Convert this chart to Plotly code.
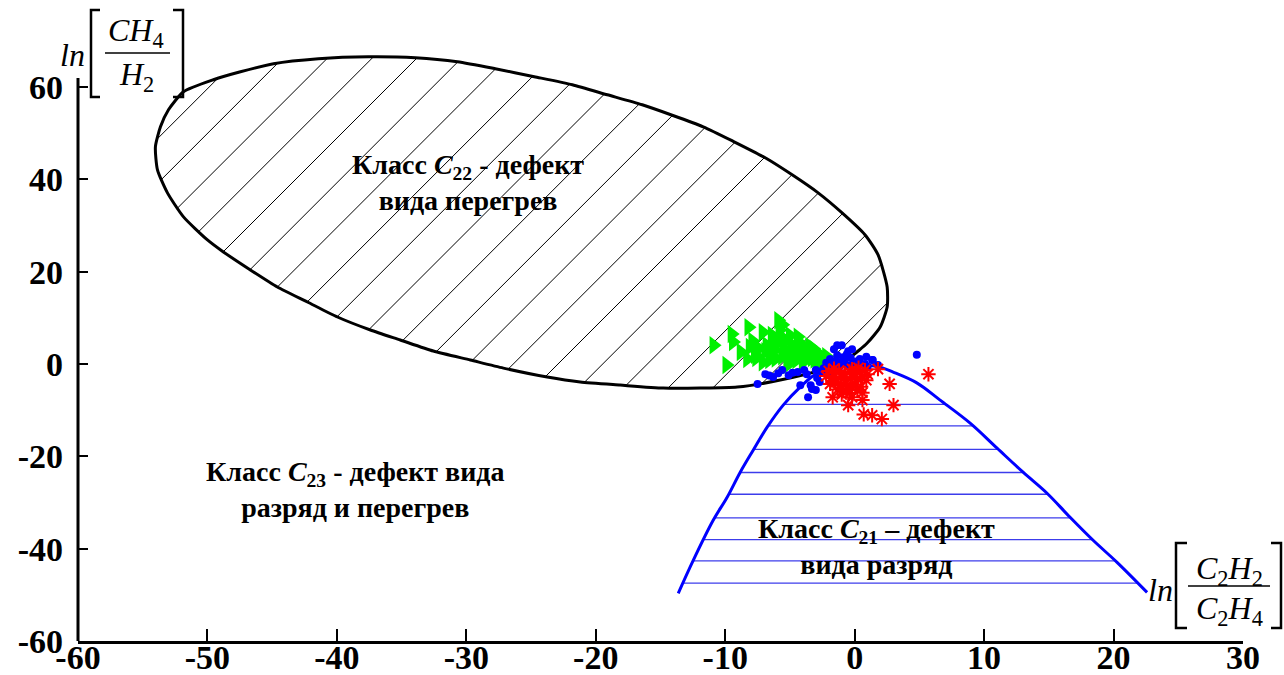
import numpy as np
import plotly.graph_objects as go

# ---------------- data ----------------
x_ticks = [-60, -50, -40, -30, -20, -10, 0, 10, 20, 30]
y_ticks = [-60, -40, -20, 0, 20, 40, 60]
y_axis_top = 62

# boundary of class C22 region (overheating)
ellipse_x = [-54.02, -53.63, -53.01, -51.85, -49.54, -47.45, -44.90, -41.43, -37.57, -33.94,
             -30.69, -27.76, -24.75, -21.81, -19.11, -16.41, -11.70, -9.31, -6.91, -4.83,
             -2.82, -0.97, 0.81, 1.81, 2.51, 2.51, 1.97, 0.97, -0.35, -2.66,
             -5.75, -9.07, -11.93, -14.79, -18.11, -21.20, -23.75, -27.14, -29.69, -32.55,
             -35.10, -37.41, -39.96, -42.28, -44.60, -46.68, -48.77, -50.00, -51.85, -53.09,
             -53.86]
ellipse_y = [47.07, 51.41, 55.10, 59.00, 61.61, 63.34, 65.08, 66.16, 66.59, 66.38,
             65.51, 63.99, 62.26, 60.52, 58.35, 56.18, 51.41, 48.16, 44.69, 41.00,
             37.09, 32.75, 27.98, 23.64, 16.70, 12.36, 8.03, 4.56, 1.52, -1.30,
             -3.47, -4.99, -5.21, -5.21, -4.56, -3.90, -2.82, -0.87, 0.87, 2.82,
             5.21, 7.38, 10.20, 13.45, 16.70, 20.39, 24.30, 26.90, 31.89, 37.09,
             42.08]

# boundary of class C21 region (discharge)
curve_x = [-13.63, -12.47, -10.93, -9.85, -8.84, -7.84, -6.76, -5.52, -4.21, -2.90,
           -1.35, 0.42, 1.74, 2.97, 4.83, 6.60, 8.92, 11.00, 13.01, 14.86,
           16.64, 18.42, 20.27, 22.59]
curve_y = [-49.67, -42.52, -33.84, -28.85, -23.43, -18.66, -13.67, -8.89, -4.99, -1.95,
           -0.50, -0.30, -0.50, -1.74, -4.12, -7.81, -12.80, -18.22, -23.43, -27.98,
           -33.19, -38.18, -42.95, -49.46]
curve_hatch_levels = [-8.74, -13.38, -18.50, -23.49, -28.20, -33.34, -38.02, -42.66, -47.44]

green_points = [(-10.9, 4.1), (-9.9, -0.2), (-9.5, 6.5), (-9.4, 4.8), (-8.2, 8.0), (-8.1, 3.7),
                (-8.8, 2.6), (-8.3, 1.1), (-7.7, 2.0), (-7.1, 6.9), (-7.1, 0.4), (-6.8, 4.1),
                (-6.5, 2.0), (-6.4, 6.3), (-6.0, 5.2), (-5.9, 9.5), (-5.8, 7.4), (-5.6, 8.5),
                (-5.5, 3.3), (-5.2, -0.2), (-5.0, 1.1), (-4.9, 4.3), (-4.6, 2.6), (-4.4, 5.9),
                (-4.2, 3.3), (-4.0, 0.4), (-3.9, 2.4), (-3.7, 2.0), (-3.5, 3.9), (-3.3, 1.3),
                (-3.2, 3.3), (-3.0, 2.2), (-2.8, 1.5), (-2.7, 2.0), (-2.5, 1.1), (-2.3, 0.9),
                (-2.2, 1.7), (-6.2, 3.0), (-5.3, 5.0), (-4.8, 3.6), (-4.1, 4.3), (-3.6, 3.0),
                (-6.9, 2.8), (-7.4, 3.4), (-5.6, 1.7), (-4.5, 0.9), (-3.4, 2.6), (-2.9, 0.8),
                (-6.6, 0.9), (-5.0, 6.2), (-4.3, 1.9), (-3.8, 1.2), (-2.6, 0.6), (-5.9, 4.6),
                (-4.7, 2.2), (-7.9, 5.0), (-6.3, 4.6), (-5.4, 2.3), (-4.4, 1.4), (-3.1, 1.0),
                (-7.6, 1.3), (-6.1, 1.2), (-5.7, 6.0), (-4.0, 2.9), (-2.4, 1.4)]

blue_points = [(-1.35, 4.1), (-0.6, 2.2), (-0.2, 3.2), (0.4, 1.1), (0.8, 0.0), (1.4, 0.9),
               (1.8, -0.2), (4.8, 2.0), (-6.9, -2.2), (-6.3, -2.8), (-5.6, -1.3), (-5.1, -2.4),
               (-4.4, -1.7), (-3.7, -2.2), (-3.0, -1.3), (-2.7, -3.9), (-3.4, -4.6), (-4.2, -4.6),
               (-3.3, -5.4), (-3.0, -5.6), (-3.6, -7.2), (-7.5, -4.3), (-2.1, -2.2), (-1.7, -0.2),
               (-1.1, 0.4), (-0.6, -0.2), (-0.1, 0.4), (0.4, -0.2), (1.0, -0.6), (-1.9, 1.1),
               (-1.35, 1.9), (-0.9, 1.5), (-1.0, 4.1), (1.35, 0.9), (-2.4, -0.9), (-2.0, -0.5),
               (-1.5, 0.6), (-0.8, 0.9), (-0.3, 1.3), (0.2, 0.6), (-2.2, 0.3), (-1.2, -0.7),
               (-4.8, -1.9), (-5.9, -2.0), (-3.9, -1.3), (-2.6, -1.6), (-1.8, -1.2), (0.0, -0.7),
               (-0.5, 2.8), (-1.6, 3.2), (-6.6, -2.5), (-2.9, -3.0), (0.9, 1.6), (-0.2, -0.3)]

red_points = [(5.7, -2.2), (2.7, -4.3), (-1.7, -7.2), (-0.5, -8.9), (0.6, -7.8), (3.0, -8.9),
              (0.7, -10.9), (1.35, -11.1), (2.1, -11.9), (-0.2, -7.2), (-0.6, -5.4), (1.8, -1.1),
              (-2.0, -1.5), (-1.6, -2.0), (-1.2, -1.4), (-0.8, -2.2), (-0.4, -1.6), (0.0, -2.0),
              (0.4, -1.8), (0.8, -1.3), (-1.8, -3.0), (-1.4, -3.3), (-1.0, -2.8), (-0.6, -3.4),
              (-0.2, -2.9), (0.2, -3.2), (0.6, -2.7), (0.9, -3.5), (-1.9, -4.3), (-1.5, -4.0),
              (-1.1, -4.6), (-0.7, -4.2), (-0.3, -4.8), (0.1, -4.4), (0.5, -4.9), (-1.3, -5.5),
              (-0.9, -5.9), (-0.4, -6.2), (0.2, -5.6), (-1.6, -1.0), (-0.2, -1.1), (0.3, -0.8),
              (-1.0, -6.6), (0.6, -6.2), (-2.2, -2.6), (1.0, -2.2)]

label_c22 = "Класс <i>C</i><sub>22</sub> - дефект<br>вида перегрев"
label_c23 = "Класс <i>C</i><sub>23</sub> - дефект вида<br>разряд и перегрев"
label_c21 = "Класс <i>C</i><sub>21</sub> – дефект<br>вида разряд"

# ---------------- layout geometry ----------------
W_FIG, H_FIG = 1284, 675
M_L, M_R, M_T, M_B = 78, 41, 41, 34
X_RANGE = [-60, 30]
Y_RANGE = [-60, 70]
PW = W_FIG - M_L - M_R
PH = H_FIG - M_T - M_B
FONT = "Liberation Serif"


def to_px(x, y):
    px = M_L + (np.asarray(x) - X_RANGE[0]) / (X_RANGE[1] - X_RANGE[0]) * PW
    py = M_T + (Y_RANGE[1] - np.asarray(y)) / (Y_RANGE[1] - Y_RANGE[0]) * PH
    return px, py


def from_px(px, py):
    x = X_RANGE[0] + (np.asarray(px) - M_L) / PW * (X_RANGE[1] - X_RANGE[0])
    y = Y_RANGE[1] - (np.asarray(py) - M_T) / PH * (Y_RANGE[1] - Y_RANGE[0])
    return x, y


def paper(px, py):
    return (px - M_L) / PW, (M_T + PH - py) / PH


# ---------------- diagonal hatching inside the C22 region ----------------
ex = np.array(ellipse_x + [ellipse_x[0]])
ey = np.array(ellipse_y + [ellipse_y[0]])
epx, epy = to_px(ex, ey)
s = epx + epy
hx, hy = [], []
c = 475.0
while c > s.min():
    c -= 44.7
c += 44.7
while c < s.max():
    pts = []
    for i in range(len(epx) - 1):
        f0, f1 = s[i] - c, s[i + 1] - c
        if f0 * f1 < 0:
            t = f0 / (f0 - f1)
            pts.append((epx[i] + t * (epx[i + 1] - epx[i]), epy[i] + t * (epy[i + 1] - epy[i])))
    pts.sort()
    for j in range(0, len(pts) - 1, 2):
        (a, b), (cc, d) = pts[j], pts[j + 1]
        xa, ya = from_px([a, cc], [b, d])
        hx += [xa[0], xa[1], None]
        hy += [ya[0], ya[1], None]
    c += 44.7

# ---------------- horizontal hatching inside the C21 region ----------------
cx = np.array(curve_x)
cy = np.array(curve_y)
k = int(np.argmax(cy))
lx, ly = cx[:k + 1], cy[:k + 1]
rx, ry = cx[k:][::-1], cy[k:][::-1]
px_h, py_h = [], []
for lvl in curve_hatch_levels:
    xl = np.interp(lvl, ly, lx)
    xr = np.interp(lvl, ry, rx)
    px_h += [xl, xr, None]
    py_h += [lvl, lvl, None]

fig = go.Figure()
fig.add_trace(go.Scatter(x=hx, y=hy, mode="lines", line=dict(color="black", width=1),
                         hoverinfo="skip", showlegend=False))
fig.add_trace(go.Scatter(x=list(ex), y=list(ey), mode="lines",
                         line=dict(color="black", width=3, shape="spline", smoothing=0.6),
                         showlegend=False))
fig.add_trace(go.Scatter(x=px_h, y=py_h, mode="lines", line=dict(color="rgb(60,60,235)", width=1.3),
                         hoverinfo="skip", showlegend=False))
fig.add_trace(go.Scatter(x=curve_x, y=curve_y, mode="lines",
                         line=dict(color="rgb(0,0,255)", width=3, shape="spline", smoothing=1.0),
                         showlegend=False))
fig.add_trace(go.Scatter(x=[p[0] for p in green_points], y=[p[1] for p in green_points],
                         mode="markers", marker=dict(symbol="triangle-right", size=16,
                                                     color="rgb(0,240,0)", line=dict(width=0)),
                         showlegend=False))
fig.add_trace(go.Scatter(x=[p[0] for p in blue_points], y=[p[1] for p in blue_points],
                         mode="markers", marker=dict(symbol="circle", size=8, color="rgb(0,0,255)",
                                                     line=dict(width=0)),
                         showlegend=False))
fig.add_trace(go.Scatter(x=[p[0] for p in red_points], y=[p[1] for p in red_points],
                         mode="markers", marker=dict(symbol="asterisk-open", size=12,
                                                     color="rgb(255,0,0)",
                                                     line=dict(color="rgb(255,0,0)", width=2)),
                         showlegend=False))

annotations = []
for txt, xx, yy in [(label_c22, -29.9, 39.3), (label_c23, -38.6, -27.1), (label_c21, 1.66, -39.5)]:
    annotations.append(dict(x=xx, y=yy, xref="x", yref="y", text=txt, showarrow=False,
                            align="center", xanchor="center", yanchor="middle",
                            font=dict(family=FONT, size=28, color="black", weight="bold")))

shapes = []
# y-axis spine (only up to the top of the tick range, as in the reference)
shapes.append(dict(type="line", xref="paper", yref="y", x0=0, x1=0, y0=Y_RANGE[0], y1=y_axis_top,
                   line=dict(color="black", width=3)))


def bracket(x_v, y0, y1, x_s):
    ax, ay0 = paper(x_v, y0)
    bx, ay1 = paper(x_s, y1)
    shapes.append(dict(type="path", xref="paper", yref="paper",
                       path=f"M {bx},{ay0} L {ax},{ay0} L {ax},{ay1} L {bx},{ay1}",
                       line=dict(color="black", width=2.5)))


def txt_px(text, px, py, size=32):
    xx, yy = paper(px, py)
    annotations.append(dict(x=xx, y=yy, xref="paper", yref="paper", text=text, showarrow=False,
                            xanchor="center", yanchor="middle",
                            font=dict(family=FONT, size=size, color="black")))


def hbar(x0, x1, py):
    a, yy = paper(x0, py)
    b, _ = paper(x1, py)
    shapes.append(dict(type="line", xref="paper", yref="paper", x0=a, x1=b, y0=yy, y1=yy,
                       line=dict(color="black", width=1.5)))


# y-axis title: ln[CH4/H2]
txt_px("<i>ln</i>", 72, 55)
bracket(91, 10, 97, 100)
bracket(183, 10, 97, 173)
txt_px("<i>CH</i><sub>4</sub>", 136, 33)
hbar(105, 170, 53)
txt_px("<i>H</i><sub>2</sub>", 136, 76)

# x-axis title: ln[C2H2/C2H4]
txt_px("<i>ln</i>", 1160, 590)
bracket(1176, 543, 628, 1187)
bracket(1281, 543, 628, 1271)
txt_px("<i>C</i><sub>2</sub><i>H</i><sub>2</sub>", 1229, 570)
hbar(1188, 1270, 586)
txt_px("<i>C</i><sub>2</sub><i>H</i><sub>4</sub>", 1229, 610)

fig.update_layout(
    width=W_FIG, height=H_FIG,
    margin=dict(l=M_L, r=M_R, t=M_T, b=M_B, pad=0, autoexpand=False),
    paper_bgcolor="white", plot_bgcolor="white",
    showlegend=False,
    annotations=annotations, shapes=shapes,
    xaxis=dict(range=X_RANGE, tickvals=x_ticks, ticktext=[str(v) for v in x_ticks],
               automargin=False, ticklabelstandoff=-16,
               showgrid=False, zeroline=False, showline=True, linecolor="black", linewidth=3,
               ticks="inside", ticklen=12, tickwidth=1.5, tickcolor="black",
               tickfont=dict(family=FONT, size=34, color="black", weight="bold")),
    yaxis=dict(range=Y_RANGE, tickvals=y_ticks, ticktext=[str(v) for v in y_ticks],
               automargin=False, ticklabelstandoff=14,
               showgrid=False, zeroline=False, showline=False,
               ticks="inside", ticklen=10, tickwidth=1.5, tickcolor="black",
               tickfont=dict(family=FONT, size=34, color="black", weight="bold")),
)

fig.write_html("out.html")
